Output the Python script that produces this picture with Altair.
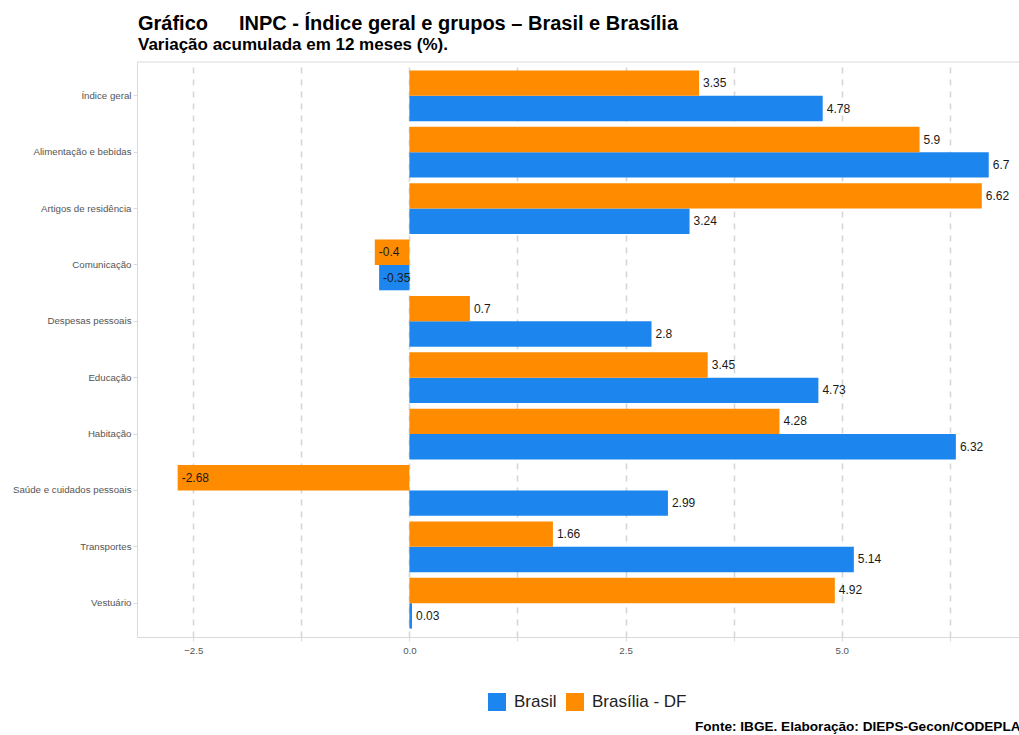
import altair as alt
import pandas as pd

categorias = [
    "Índice geral",
    "Alimentação e bebidas",
    "Artigos de residência",
    "Comunicação",
    "Despesas pessoais",
    "Educação",
    "Habitação",
    "Saúde e cuidados pessoais",
    "Transportes",
    "Vestuário",
]
brasil = [4.78, 6.7, 3.24, -0.35, 2.8, 4.73, 6.32, 2.99, 5.14, 0.03]
brasilia = [3.35, 5.9, 6.62, -0.4, 0.7, 3.45, 4.28, -2.68, 1.66, 4.92]
series = ["Brasil", "Brasília - DF"]
cores = ["#1C86EE", "#FF8C00"]
x_ticks = [-2.5, -1.25, 0.0, 1.25, 2.5, 3.75, 5.0, 6.25]

rows = []
for c, b, d in zip(categorias, brasil, brasilia):
    rows.append({"categoria": c, "serie": "Brasil", "valor": b, "label": f"{b:g}"})
    rows.append({"categoria": c, "serie": "Brasília - DF", "valor": d, "label": f"{d:g}"})
df = pd.DataFrame(rows)

W, H = 882, 575
FONT = "Liberation Sans"
GRID = "#d6d6d6"
FRAME = "#dadada"

x_enc = alt.X(
    "valor:Q",
    scale=alt.Scale(domain=[-3.15, 7.05], nice=False, zero=False),
    axis=alt.Axis(
        title=None,
        values=x_ticks,
        labelExpr="abs(datum.value % 2.5) < 0.001 ? format(datum.value, '.1f') : ''",
        grid=True,
        gridDash=[6, 6],
        gridColor=GRID,
        gridWidth=1.6,
        domainColor=FRAME,
        tickColor=FRAME,
        tickSize=4,
        labelFontSize=9.7,
        labelColor="#555555",
        labelPadding=4,
    ),
)
y_enc = alt.Y(
    "categoria:N",
    sort=categorias,
    scale=alt.Scale(paddingInner=0.1, paddingOuter=0.15),
    axis=alt.Axis(
        title=None,
        grid=False,
        domainColor=FRAME,
        tickColor=FRAME,
        tickSize=4,
        labelFontSize=9.7,
        labelColor="#555555",
        labelPadding=2,
    ),
)
yoff = alt.YOffset(
    "serie:N",
    sort=["Brasília - DF", "Brasil"],
    scale=alt.Scale(paddingInner=0, paddingOuter=0),
)

base = alt.Chart(df)

bars = base.mark_bar().encode(
    x=x_enc,
    y=y_enc,
    yOffset=yoff,
    color=alt.Color(
        "serie:N",
        scale=alt.Scale(domain=series, range=cores),
        legend=alt.Legend(
            title=None,
            orient="none",
            direction="horizontal",
            legendX=351,
            legendY=631,
            symbolType="square",
            symbolSize=324,
            symbolStrokeWidth=0,
            symbolOpacity=1,
            labelFontSize=17,
            labelColor="#222222",
            labelOffset=8,
            columnPadding=9,
        ),
    ),
)

labels = base.mark_text(
    align="left", baseline="middle", dx=4, fontSize=12, color="#1a1a1a"
).encode(x="valor:Q", y=alt.Y("categoria:N", sort=categorias), yOffset=yoff, text="label:N")

top_line = alt.Chart(pd.DataFrame({"a": [0]})).mark_rule(color=FRAME, strokeWidth=1).encode(
    x=alt.value(0), x2=alt.value(W), y=alt.value(0)
)

txt = pd.DataFrame({"a": [0]})
titulo1 = alt.Chart(txt).mark_text(
    align="left", baseline="alphabetic", fontSize=20, fontWeight="bold", color="#000000"
).encode(x=alt.value(1), y=alt.value(-32), text=alt.value("Gráfico"))
titulo2 = alt.Chart(txt).mark_text(
    align="left", baseline="alphabetic", fontSize=20, fontWeight="bold", color="#000000"
).encode(x=alt.value(102), y=alt.value(-32), text=alt.value("INPC - Índice geral e grupos – Brasil e Brasília"))
subtitulo = alt.Chart(txt).mark_text(
    align="left", baseline="alphabetic", fontSize=17, fontWeight="bold", color="#000000"
).encode(x=alt.value(1), y=alt.value(-12.5), text=alt.value("Variação acumulada em 12 meses (%)."))
fonte = alt.Chart(txt).mark_text(
    align="left", baseline="alphabetic", fontSize=13.6, fontWeight="bold", color="#000000"
).encode(x=alt.value(558), y=alt.value(669), text=alt.value("Fonte: IBGE. Elaboração: DIEPS-Gecon/CODEPLAN"))

chart = (
    alt.layer(bars, labels, top_line, titulo1, titulo2, subtitulo, fonte)
    .properties(
        width=W,
        height=H,
        autosize=alt.AutoSizeParams(type="none"),
        padding={"left": 137, "top": 62, "right": 0, "bottom": 98},
        background="white",
    )
    .configure(font=FONT)
    .configure_view(stroke=None)
)

chart.save("out.html", embed_options={"renderer": "svg", "actions": False})
